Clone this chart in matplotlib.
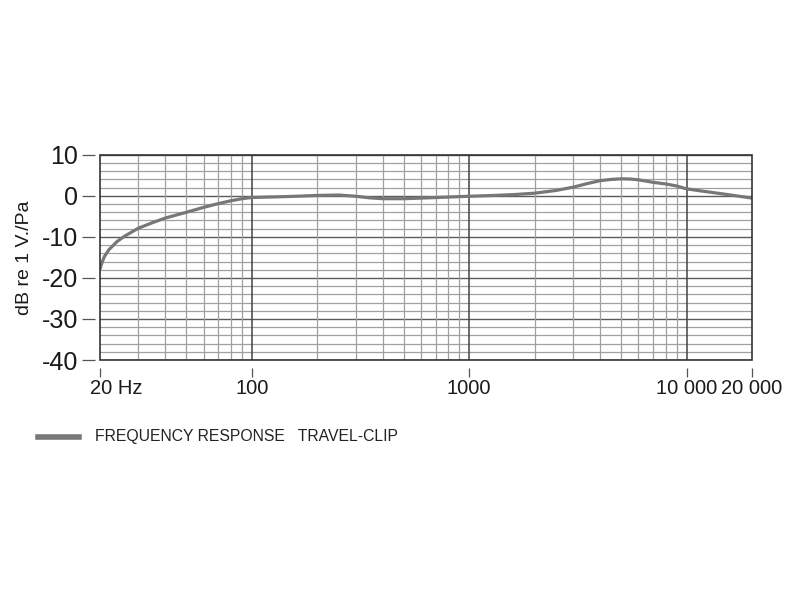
import numpy as np
import matplotlib
matplotlib.use("Agg")
import matplotlib.pyplot as plt
from matplotlib.patches import Rectangle
from matplotlib.lines import Line2D
from matplotlib.transforms import ScaledTranslation

plt.rcParams['font.family'] = ['Liberation Sans', 'DejaVu Sans']

# frequency response (Hz, dB re 1 V/Pa)
freq = [20, 20.5, 21, 22, 24, 26, 30, 35, 40, 50, 60, 70, 80, 90, 100,
        130, 160, 200, 250, 300, 350, 400, 500, 600, 800, 1000,
        1300, 1600, 2000, 2500, 3000, 3500, 4000, 4500, 5000, 5500,
        6000, 7000, 8000, 9000, 10000, 12000, 15000, 20000]
level = [-17.8, -16.0, -14.7, -13.1, -11.1, -9.8, -7.9, -6.5, -5.4, -4.0, -2.8, -1.9, -1.2, -0.7, -0.4,
         -0.25, -0.1, 0.1, 0.2, -0.1, -0.5, -0.7, -0.7, -0.55, -0.3, -0.1,
         0.1, 0.3, 0.65, 1.3, 2.1, 3.0, 3.7, 4.0, 4.15, 4.1,
         3.9, 3.3, 2.9, 2.4, 1.7, 1.1, 0.4, -0.55]

x_ticks = [20, 100, 1000, 10000, 20000]
x_labels = ["20 Hz", "100", "1000", "10 000", "20 000"]
y_ticks = [10, 0, -10, -20, -30, -40]
minor_freqs = [30, 40, 50, 60, 70, 80, 90,
               200, 300, 400, 500, 600, 700, 800, 900,
               2000, 3000, 4000, 5000, 6000, 7000, 8000, 9000]
major_freqs = [100, 1000, 10000]

PX = 72 / 100  # points per pixel at dpi 100

fig = plt.figure(figsize=(8, 6), dpi=100)
ax = fig.add_axes([0.125, 0.4, 0.815, 0.342])
ax.set_xscale("log")
ax.set_xlim(20, 20000)
ax.set_ylim(-40, 10)

# grid
for y in range(-40, 11, 2):
    major = (y % 10 == 0)
    ax.axhline(y, color="#5a5a5a" if major else "#a0a0a0",
               lw=1.0 if major else 0.9, zorder=1)
for f in minor_freqs:
    ax.axvline(f, color="#a0a0a0", lw=0.9, zorder=1)
for f in major_freqs:
    ax.axvline(f, color="#444444", lw=1.1, zorder=1)

ax.plot(freq, level, color="#777777", lw=2.3, zorder=3, solid_capstyle="round")

# frame
ax.add_patch(Rectangle((0, 0), 1, 1, transform=ax.transAxes, fill=False,
                       edgecolor="#333333", lw=1.2, zorder=4, clip_on=False))
for s in ax.spines.values():
    s.set_visible(False)
ax.spines["left"].set_position(("outward", 5 * PX))
ax.spines["bottom"].set_position(("outward", 8 * PX))

ax.set_xticks(x_ticks)
ax.set_xticklabels(x_labels)
ax.xaxis.set_minor_locator(matplotlib.ticker.NullLocator())
ax.set_yticks(y_ticks)
ax.set_yticklabels([str(v) for v in y_ticks])
ax.tick_params(axis="x", direction="out", length=9 * PX, width=0.9, color="#555555",
               pad=2 * PX, labelsize=14.5, labelcolor="#1a1a1a")
ax.tick_params(axis="y", direction="out", length=13 * PX, width=0.9, color="#555555",
               pad=4 * PX, labelsize=18, labelcolor="#1a1a1a")
ax.set_ylabel("dB re 1 V./Pa", fontsize=14, color="#1a1a1a", labelpad=6)

# "20 Hz": number sits under the tick, unit trails to the right
first = ax.get_xticklabels()[0]
first.set_horizontalalignment("left")
first.set_transform(first.get_transform() + ScaledTranslation(-10 / 100, 0, fig.dpi_scale_trans))

# legend
fig.add_artist(Line2D([38 / 800, 79 / 800], [1 - 437 / 600, 1 - 437 / 600],
                      color="#777777", lw=4))
fig.text(95 / 800, 1 - 437 / 600, "FREQUENCY RESPONSE   TRAVEL-CLIP",
         fontsize=11.3, color="#222222", va="center", ha="left")

fig.savefig("out.png", dpi=100)
